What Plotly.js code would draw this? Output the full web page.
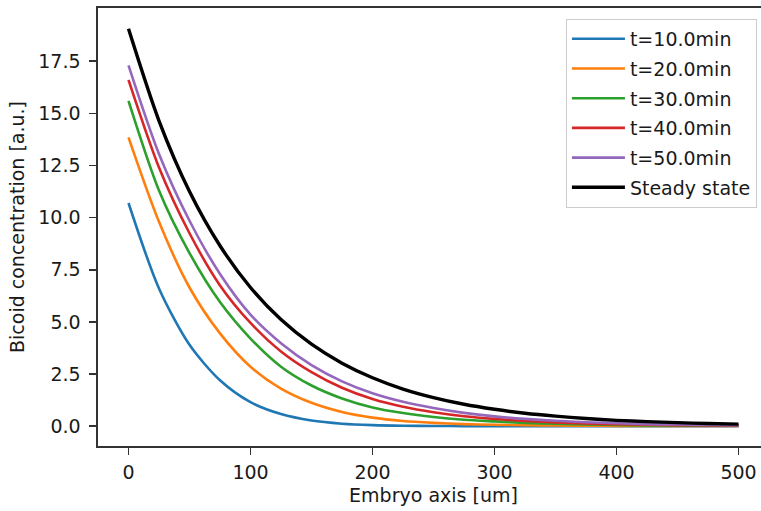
<!DOCTYPE html>
<html>
<head>
<meta charset="utf-8">
<script src="https://cdn.plot.ly/plotly-3.0.1.min.js"></script>
<style>
html, body { margin: 0; padding: 0; overflow: hidden; background: #fff; }
#chart { width: 770px; height: 511px; }
</style>
</head>
<body>
<div id="chart"></div>
<script>
// Embryo axis positions [um]
var xPos = [0, 25, 50, 75, 100, 125, 150, 175, 200, 225, 250, 275, 300, 325, 350, 375, 400, 425, 450, 475, 500];

// Bicoid concentration [a.u.]
var t10 = [10.7, 6.6, 3.9, 2.2, 1.15, 0.58, 0.27, 0.12, 0.05, 0.02, 0.01, 0.005, 0.003, 0.002, 0.001, 0.001, 0.0, 0.0, 0.0, 0.0, 0.0];
var t20 = [13.85, 9.8, 6.65, 4.45, 2.85, 1.8, 1.12, 0.68, 0.41, 0.25, 0.16, 0.10, 0.07, 0.05, 0.03, 0.02, 0.015, 0.01, 0.01, 0.01, 0.01];
var t30 = [15.6, 11.3, 8.3, 5.95, 4.2, 2.85, 1.95, 1.33, 0.90, 0.63, 0.44, 0.31, 0.23, 0.16, 0.115, 0.08, 0.06, 0.04, 0.03, 0.02, 0.02];
var t40 = [16.6, 12.4, 9.25, 6.75, 4.95, 3.58, 2.59, 1.84, 1.30, 0.93, 0.67, 0.48, 0.35, 0.25, 0.18, 0.13, 0.095, 0.07, 0.05, 0.04, 0.03];
var t50 = [17.3, 13.05, 9.85, 7.3, 5.35, 3.98, 2.93, 2.15, 1.58, 1.17, 0.87, 0.64, 0.47, 0.35, 0.26, 0.19, 0.14, 0.10, 0.08, 0.06, 0.05];
var steady = [19.05, 14.64, 11.25, 8.65, 6.65, 5.11, 3.93, 3.02, 2.32, 1.78, 1.37, 1.05, 0.81, 0.62, 0.48, 0.37, 0.28, 0.22, 0.17, 0.13, 0.10];

var seriesNames = ["t=10.0min", "t=20.0min", "t=30.0min", "t=40.0min", "t=50.0min", "Steady state"];
var seriesData = [t10, t20, t30, t40, t50, steady];
var seriesColors = ["#1f77b4", "#ff7f0e", "#2ca02c", "#d62728", "#9467bd", "#000000"];
var seriesWidths = [2.6, 2.6, 2.6, 2.6, 2.6, 3.4];

var xTicks = [0, 100, 200, 300, 400, 500];
var yTicks = [0, 2.5, 5, 7.5, 10, 12.5, 15, 17.5];

var traces = seriesData.map(function (ys, i) {
  return {
    x: xPos,
    y: ys,
    type: "scatter",
    mode: "lines",
    name: seriesNames[i],
    legendgroup: "g" + i,
    line: { color: seriesColors[i], width: seriesWidths[i], shape: "spline", smoothing: 0.8 }
  };
});

var fontFam = "DejaVu Sans, sans-serif";
var txtColor = "#1a1a1a";
var fs = 19;
var layout = {
  width: 770,
  height: 511,
  margin: { l: 98, r: 1, t: 8, b: 65 },
  paper_bgcolor: "#ffffff",
  plot_bgcolor: "#ffffff",
  font: { family: fontFam, size: fs, color: txtColor },
  showlegend: true,
  legend: {
    x: 0.982, xanchor: "right",
    y: 0.975, yanchor: "top",
    bgcolor: "rgba(255,255,255,0.8)",
    bordercolor: "#cccccc",
    borderwidth: 1,
    font: { family: fontFam, size: fs, color: txtColor },
    tracegroupgap: 2,
    traceorder: "grouped",
    itemwidth: 53
  },
  xaxis: {
    range: [-25, 525],
    tickvals: xTicks,
    ticktext: xTicks.map(String),
    ticks: "outside",
    ticklen: 7,
    tickwidth: 1.6,
    tickcolor: "#333333",
    showline: true,
    linecolor: "#333333",
    linewidth: 1.6,
    mirror: true,
    showgrid: false,
    zeroline: false,
    automargin: false,
    ticklabelstandoff: 2,
    tickfont: { family: fontFam, size: fs, color: txtColor },
    title: { text: "Embryo axis [um]", font: { family: fontFam, size: fs, color: txtColor }, standoff: 6 }
  },
  yaxis: {
    range: [-0.95, 20.05],
    tickvals: yTicks,
    ticktext: yTicks.map(function (v) { return v.toFixed(1); }),
    ticks: "outside",
    ticklen: 7,
    tickwidth: 1.6,
    tickcolor: "#333333",
    showline: true,
    linecolor: "#333333",
    linewidth: 1.6,
    mirror: true,
    showgrid: false,
    zeroline: false,
    automargin: false,
    ticklabelstandoff: 5,
    tickfont: { family: fontFam, size: fs, color: txtColor },
    title: { text: "Bicoid concentration [a.u.]", font: { family: fontFam, size: fs, color: txtColor }, standoff: 8 }
  }
};

Plotly.newPlot("chart", traces, layout, { displayModeBar: false, staticPlot: true });
</script>
</body>
</html>
